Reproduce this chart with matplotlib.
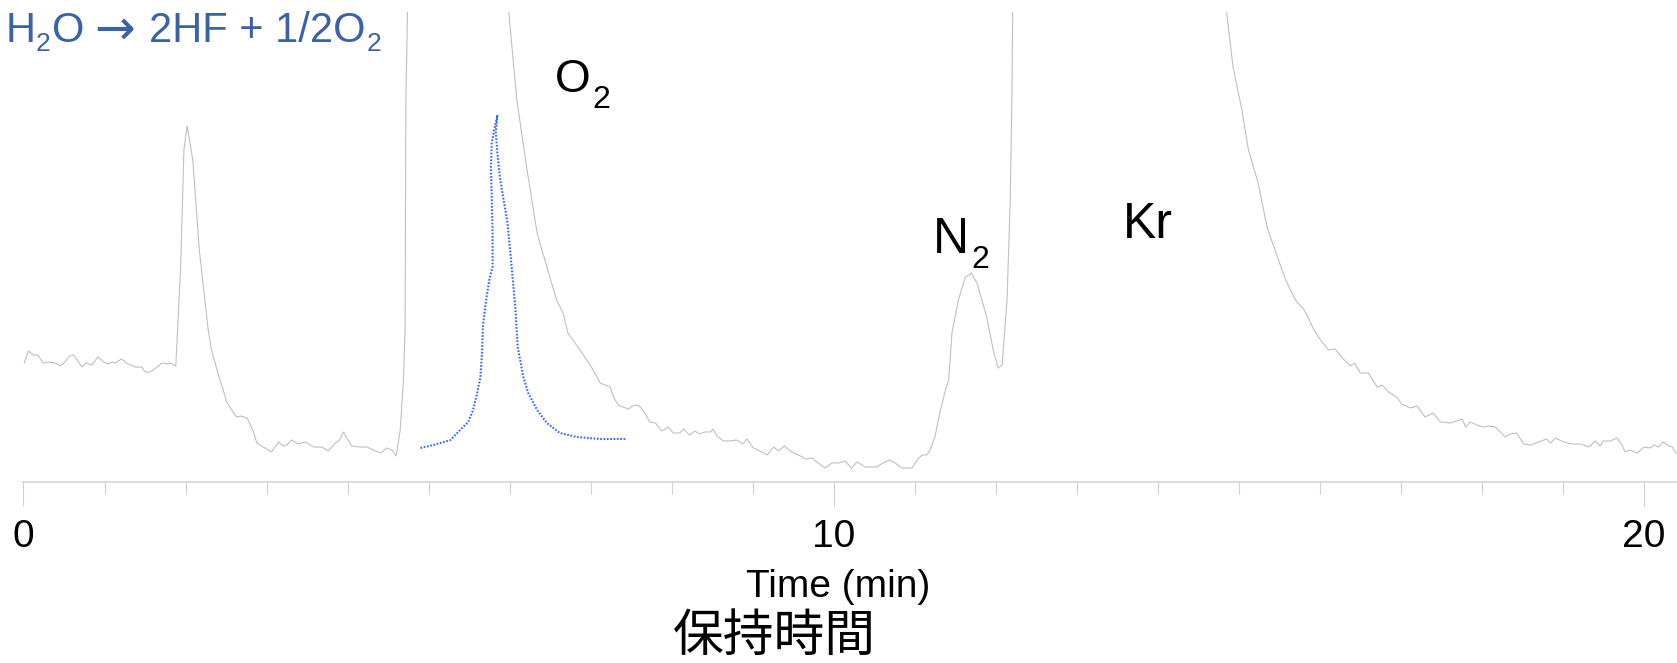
import numpy as np
import matplotlib
matplotlib.use("Agg")
import matplotlib.pyplot as plt
from matplotlib.transforms import IdentityTransform

plt.rcParams['font.family'] = ['Liberation Sans', 'DejaVu Sans']

# gray chromatogram (time in min, signal in arbitrary units); O2 and Kr peaks go off scale
t_trace = [0.01, 0.06, 0.12, 0.18, 0.24, 0.31, 0.39, 0.46, 0.51, 0.57, 0.62, 0.72, 0.77,
           0.84, 0.92, 0.99, 1.05, 1.09, 1.13, 1.21, 1.27, 1.38, 1.46, 1.50, 1.56, 1.62,
           1.71, 1.77, 1.82, 1.88, 1.94, 1.98, 2.02, 2.09, 2.17, 2.28, 2.32, 2.40, 2.51,
           2.57, 2.63, 2.69, 2.76, 2.84, 2.88, 2.96, 3.06, 3.15, 3.21, 3.25, 3.31, 3.39,
           3.48, 3.58, 3.68, 3.76, 3.85, 3.90, 3.95, 4.05, 4.15, 4.24, 4.32, 4.41, 4.48,
           4.55, 4.60, 4.65, 4.69, 4.71, 4.72, 4.74, 5.60, 5.99, 6.09, 6.21, 6.34, 6.41,
           6.58, 6.66, 6.72, 6.87, 7.01, 7.12, 7.24, 7.29, 7.34, 7.40, 7.47, 7.51, 7.59,
           7.67, 7.73, 7.80, 7.88, 7.96, 8.02, 8.10, 8.15, 8.22, 8.29, 8.34, 8.41, 8.48,
           8.51, 8.56, 8.64, 8.72, 8.80, 8.88, 8.93, 9.01, 9.09, 9.18, 9.26, 9.32, 9.39,
           9.48, 9.59, 9.65, 9.73, 9.81, 9.89, 9.98, 10.06, 10.14, 10.22, 10.29, 10.39,
           10.53, 10.61, 10.69, 10.76, 10.84, 10.97, 11.03, 11.09, 11.15, 11.19, 11.25,
           11.31, 11.38, 11.42, 11.46, 11.54, 11.62, 11.70, 11.77, 11.89, 11.97, 12.03,
           12.08, 12.14, 12.18, 12.20, 12.21, 13.50, 14.85, 14.93, 15.04, 15.12, 15.24,
           15.35, 15.46, 15.58, 15.70, 15.81, 15.93, 16.01, 16.11, 16.19, 16.29, 16.38,
           16.43, 16.50, 16.60, 16.71, 16.77, 16.85, 16.95, 17.01, 17.12, 17.20, 17.30,
           17.40, 17.49, 17.61, 17.69, 17.76, 17.80, 17.86, 17.94, 18.02, 18.08, 18.17,
           18.23, 18.29, 18.35, 18.43, 18.52, 18.60, 18.70, 18.80, 18.85, 18.91, 19.01,
           19.11, 19.22, 19.32, 19.40, 19.46, 19.50, 19.59, 19.67, 19.73, 19.77, 19.83,
           19.92, 20.00, 20.08, 20.13, 20.18, 20.24, 20.31, 20.35, 20.40]
s_trace = [119, 131, 127, 127, 119, 120, 119, 116, 120, 126, 127, 115, 119,
           117, 125, 120, 118, 120, 119, 123, 119, 115, 115, 110, 110, 113,
           119, 118, 119, 116, 215, 332, 356, 322, 232, 152, 132, 109, 80,
           72, 65, 66, 64, 50, 39, 35, 30, 40, 36, 37, 42, 38,
           40, 35, 35, 31, 39, 42, 50, 36, 35, 35, 32, 29, 34,
           32, 26, 52, 102, 152, 382, 470, 1400, 470, 382, 315, 249, 229,
           182, 169, 149, 132, 115, 99, 95, 84, 77, 75, 73, 76, 77,
           69, 60, 59, 51, 55, 49, 49, 53, 47, 51, 48, 50, 50,
           53, 46, 41, 41, 42, 38, 43, 34, 31, 27, 35, 31, 36,
           30, 26, 23, 24, 19, 14, 19, 19, 21, 14, 20, 15,
           15, 19, 22, 19, 14, 14, 22, 27, 27, 32, 45,
           69, 92, 102, 149, 182, 204, 209, 199, 165, 132, 114,
           117, 182, 282, 382, 470, 3000, 470, 415, 372, 332, 299,
           255, 229, 202, 182, 172, 152, 142, 132, 133, 123, 116,
           119, 109, 109, 95, 97, 90, 85, 78, 74, 76, 65,
           69, 60, 59, 61, 63, 55, 60, 57, 55, 56, 55,
           50, 45, 48, 49, 38, 37, 40, 43, 39, 44, 40,
           38, 38, 35, 41, 36, 41, 41, 44, 37, 30, 32,
           29, 35, 34, 37, 35, 40, 36, 35, 29]

# blue dotted O2 peak from the H2O reaction
t_o2 = [4.90, 5.06, 5.27, 5.39, 5.49, 5.55, 5.60, 5.64, 5.66, 5.67, 5.71, 5.75, 5.79,
        5.79, 5.78, 5.77, 5.78, 5.81, 5.85, 5.83, 5.85, 5.88, 5.92, 5.97, 6.01, 6.04,
        6.07, 6.10, 6.17, 6.23, 6.34, 6.46, 6.62, 6.83, 7.12, 7.45]
s_o2 = [34, 37, 42, 52, 60, 72, 89, 105, 129, 155, 182, 202, 215,
        249, 282, 315, 339, 352, 367, 349, 329, 305, 285, 262, 229, 202,
        175, 135, 105, 89, 72, 59, 49, 45, 43, 43]

H = 663  # figure height in px, text positions below are px from the top-left


def put(x, y_top, s, size, **kw):
    return fig.text(x, H - y_top, s, fontsize=size, ha='left', va='baseline',
                    transform=IdentityTransform(), **kw)


def put_after(prev, dx, y_top, s, size, **kw):
    r = fig.canvas.get_renderer()
    x = prev.get_window_extent(r).x1 + dx
    return put(x, y_top, s, size, **kw)


fig = plt.figure(figsize=(16.77, 6.63), dpi=100)
ax = fig.add_axes([0, 0.2730, 1, 0.7089])

ax.plot(t_trace, s_trace, color='#c0c0c0', lw=0.8)
ax.plot(t_o2, s_o2, color='#3366ff', lw=1.5, linestyle=(0, (0.8, 0.8)))

ax.set_xlim(-0.29, 20.41)
ax.set_ylim(0, 470)
ax.set_facecolor('none')
for side in ['top', 'left', 'right']:
    ax.spines[side].set_visible(False)
ax.spines['bottom'].set_color('#d0d0d0')
ax.spines['bottom'].set_linewidth(1.1)
ax.spines['bottom'].set_bounds(0, 20.41)
ax.set_yticks([])
ax.set_xticks([0, 10, 20])
ax.set_xticks(np.arange(0, 21, 1), minor=True)
ax.tick_params(axis='x', which='major', length=17.3, width=0.8, color='#d0d0d0',
               labelsize=28, pad=9.5)
ax.tick_params(axis='x', which='minor', length=8.6, width=0.8, color='#d0d0d0')

fig.text(0.5, 0.0995, 'Time (min)', ha='center', va='baseline', fontsize=28)
put(673, 651, '保持時間', 36.5, family=['Noto Sans CJK JP', 'DejaVu Sans'])

# reaction text in blue
blue = '#3a62a8'
p = put(6, 42, 'H', 30, color=blue)
p = put_after(p, 0, 51, '2', 19, color=blue)
p = put_after(p, 1, 42, 'O', 30, color=blue)
p = put_after(p, 10, 44, '→', 35, color=blue, family=['DejaVu Sans'])
p = put_after(p, 14, 42, '2HF + 1/2O', 30, color=blue)
put_after(p, 1, 51, '2', 19, color=blue)

# peak names
p = put(555, 92, 'O', 33)
put_after(p, 2, 108, '2', 23)
p = put(933, 253, 'N', 36)
put_after(p, 2, 268, '2', 23)
put(1123, 238, 'Kr', 36)

fig.savefig('out.png', dpi=100)
